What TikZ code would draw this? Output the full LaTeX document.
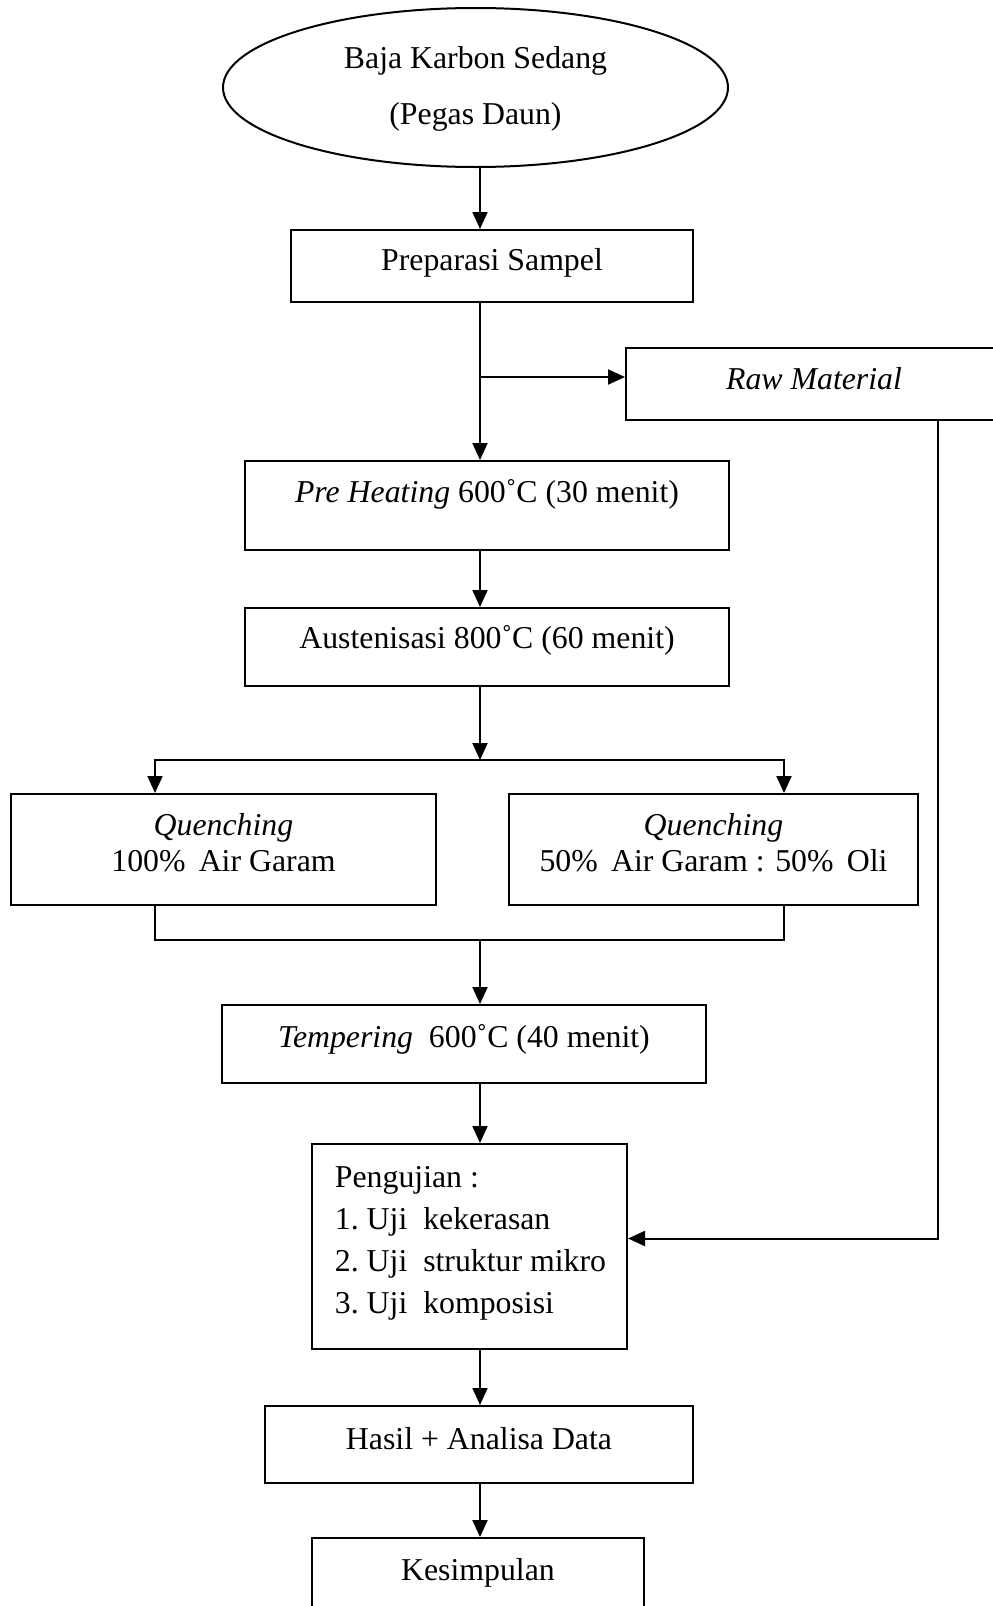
\documentclass[tikz,border=0pt]{standalone}
\usepackage{fontspec}
\setmainfont{Liberation Serif}
\usetikzlibrary{shapes.geometric}
\usetikzlibrary{arrows.meta}
\tikzset{blk/.style={draw, line width=2pt, inner sep=0pt}}
\tikzset{ell/.style={draw, ellipse, line width=2pt, inner sep=0pt}}
\tikzset{>={Triangle[length=17pt,width=15pt]}}

\begin{document}
\begin{tikzpicture}[x=1pt, y=-1pt, line width=2pt, font=\fontsize{31.8pt}{36pt}\selectfont]
        \useasboundingbox (0,0) rectangle (993,1606);
        \clip (0,0) rectangle (993,1606);
        \coordinate (spine) at (480,0);
        \coordinate (side) at (938,0);
        \coordinate (lft) at (155,0);
        \coordinate (rgt) at (784,0);
        \coordinate (split) at (480,760);
        \coordinate (join) at (480,940);
        \node[ell, minimum width=505pt, minimum height=159pt, label={[align=center, yshift=-1pt]center:{Baja Karbon Sedang\\[20pt](Pegas Daun)}}] (base) at (475.5,87.5) {};
        \node[blk, minimum width=402pt, minimum height=72pt, label={[yshift=3pt]center:Preparasi Sampel}] (prep) at (492,266) {};
        \node[blk, minimum width=376pt, minimum height=72pt, label={[yshift=5pt]center:\textit{Raw Material}}] (raw) at (814,384) {};
        \node[blk, minimum width=484pt, minimum height=89pt, label={[yshift=11.5pt]center:{\textit{Pre Heating} 600˚C (30 menit)}}] (preheat) at (487,505.5) {};
        \node[blk, minimum width=484pt, minimum height=78pt, label={[yshift=7pt]center:{Austenisasi 800˚C (60 menit)}}] (austen) at (487,647) {};
        \node[blk, minimum width=425pt, minimum height=111pt, label={[align=center, yshift=6.5pt]center:{\textit{Quenching}\\100\%\ \,Air Garam}}] (qa) at (223.5,849.5) {};
        \node[blk, minimum width=409pt, minimum height=111pt, label={[align=center, yshift=6.5pt]center:{\textit{Quenching}\\50\%\ \,Air Garam : 50\%\ \,Oli}}] (qb) at (713.5,849.5) {};
        \node[blk, minimum width=484pt, minimum height=78pt, label={[yshift=5pt]center:{\textit{Tempering}\ \ 600˚C (40 menit)}}] (temper) at (464,1044) {};
        \node[blk, minimum width=315pt, minimum height=205pt, label={[align=left, yshift=3.5pt, xshift=1pt]center:{Pengujian :\\[6pt]1.\ Uji\ \ kekerasan\\[6pt]2.\ Uji\ \ struktur mikro\\[6pt]3.\ Uji\ \ komposisi}}] (test) at (469.5,1246.5) {};
        \node[blk, minimum width=428pt, minimum height=77pt, label={[yshift=5.5pt]center:{Hasil + Analisa Data}}] (hasil) at (479,1444.5) {};
        \node[blk, minimum width=332pt, minimum height=77pt, label={[yshift=3.5pt]center:Kesimpulan}] (kesim) at (478,1576.5) {};
        \coordinate[yshift=7pt] (branch) at (raw.west);
        \coordinate[yshift=8pt] (entry) at (test.east);
        \draw[->] (base.south -| spine) -- (prep.north -| spine);
        \draw[->] (prep.south -| spine) -- (preheat.north -| spine);
        \draw[->] (branch -| spine) -- (branch);
        \draw[->] (raw.south -| side) |- (entry);
        \draw[->] (preheat.south -| spine) -- (austen.north -| spine);
        \draw[->] (austen.south -| spine) -- (split);
        \draw[->] (split) -| (qa.north -| lft);
        \draw[->] (split) -| (qb.north -| rgt);
        \draw (qa.south -| lft) |- (join) -| (qb.south -| rgt);
        \draw[->] (join) -- (temper.north -| spine);
        \draw[->] (temper.south -| spine) -- (test.north -| spine);
        \draw[->] (test.south -| spine) -- (hasil.north -| spine);
        \draw[->] (hasil.south -| spine) -- (kesim.north -| spine);
    \end{tikzpicture}
\end{document}
